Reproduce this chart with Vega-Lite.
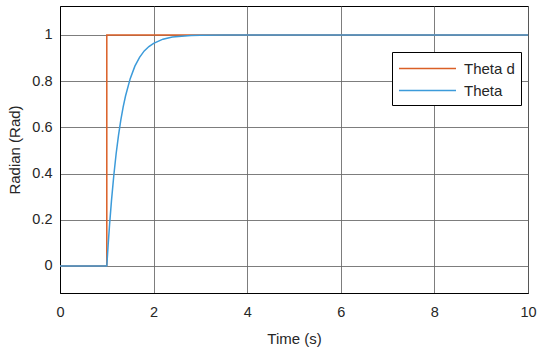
{
  "$schema": "https://vega.github.io/schema/vega-lite/v6.json",
  "width": 468,
  "height": 287,
  "autosize": {"type": "none"},
  "padding": {"left": 60, "top": 6, "right": 18, "bottom": 64},
  "background": "white",
  "config": {
    "font": "Liberation Sans",
    "view": {"stroke": "black", "strokeWidth": 1},
    "axis": {
      "domainColor": "black",
      "gridColor": "#666666",
      "gridWidth": 1,
      "gridOpacity": 0.85,
      "tickSize": 0,
      "labelFont": "Liberation Sans",
      "labelFontSize": 14.5,
      "labelColor": "#262626",
      "titleFont": "Liberation Sans",
      "titleFontSize": 15,
      "titleFontWeight": "normal",
      "titleColor": "#262626"
    }
  },
  "datasets": {
    "ref": [
      {"t": 0, "v": 0, "i": 0, "s": "Theta d"},
      {"t": 1, "v": 0, "i": 1, "s": "Theta d"},
      {"t": 1, "v": 1, "i": 2, "s": "Theta d"},
      {"t": 10, "v": 1, "i": 3, "s": "Theta d"}
    ],
    "resp": [
      {"t": 0, "v": 0, "s": "Theta"},
      {"t": 1.0, "v": 0, "s": "Theta"},
      {"t": 1.03, "v": 0.095, "s": "Theta"},
      {"t": 1.06, "v": 0.181, "s": "Theta"},
      {"t": 1.1, "v": 0.283, "s": "Theta"},
      {"t": 1.15, "v": 0.393, "s": "Theta"},
      {"t": 1.2, "v": 0.487, "s": "Theta"},
      {"t": 1.25, "v": 0.565, "s": "Theta"},
      {"t": 1.3, "v": 0.632, "s": "Theta"},
      {"t": 1.35, "v": 0.689, "s": "Theta"},
      {"t": 1.4, "v": 0.736, "s": "Theta"},
      {"t": 1.5, "v": 0.811, "s": "Theta"},
      {"t": 1.6, "v": 0.865, "s": "Theta"},
      {"t": 1.7, "v": 0.903, "s": "Theta"},
      {"t": 1.8, "v": 0.931, "s": "Theta"},
      {"t": 1.9, "v": 0.950, "s": "Theta"},
      {"t": 2.0, "v": 0.964, "s": "Theta"},
      {"t": 2.2, "v": 0.982, "s": "Theta"},
      {"t": 2.4, "v": 0.991, "s": "Theta"},
      {"t": 2.6, "v": 0.995, "s": "Theta"},
      {"t": 2.8, "v": 0.9975, "s": "Theta"},
      {"t": 3.0, "v": 0.9988, "s": "Theta"},
      {"t": 3.5, "v": 0.9998, "s": "Theta"},
      {"t": 4.0, "v": 1.0, "s": "Theta"},
      {"t": 10.0, "v": 1.0, "s": "Theta"}
    ]
  },
  "encoding": {
    "x": {
      "field": "t", "type": "quantitative",
      "scale": {"domain": [0, 10], "nice": false, "zero": false},
      "axis": {"title": "Time (s)", "values": [0, 2, 4, 6, 8, 10], "labelPadding": 12, "titlePadding": 13, "labelFlush": false}
    },
    "y": {
      "field": "v", "type": "quantitative",
      "scale": {"domain": [-0.117, 1.1255], "nice": false, "zero": false},
      "axis": {"title": "Radian (Rad)", "values": [0, 0.2, 0.4, 0.6, 0.8, 1], "format": ".1~f", "labelPadding": 8, "titlePadding": 9}
    },
    "color": {
      "field": "s", "type": "nominal",
      "scale": {"domain": ["Theta d", "Theta"], "range": ["#DA5F26", "#3C9BDA"]},
      "legend": {
        "title": null,
        "orient": "none",
        "legendX": 332,
        "legendY": 46,
        "symbolType": "M-1,0H5",
        "symbolSize": 361,
        "symbolStrokeWidth": 1.5,
        "labelFont": "Liberation Sans",
        "labelFontSize": 15,
        "labelColor": "#262626",
        "strokeColor": "black",
        "fillColor": "white",
        "padding": 6,
        "rowPadding": 3,
        "labelOffset": 45
      }
    }
  },
  "layer": [
    {"data": {"name": "ref"}, "mark": {"type": "line", "strokeWidth": 1.5}, "encoding": {"order": {"field": "i", "type": "quantitative"}}},
    {"data": {"name": "resp"}, "mark": {"type": "line", "strokeWidth": 1.5}}
  ]
}
